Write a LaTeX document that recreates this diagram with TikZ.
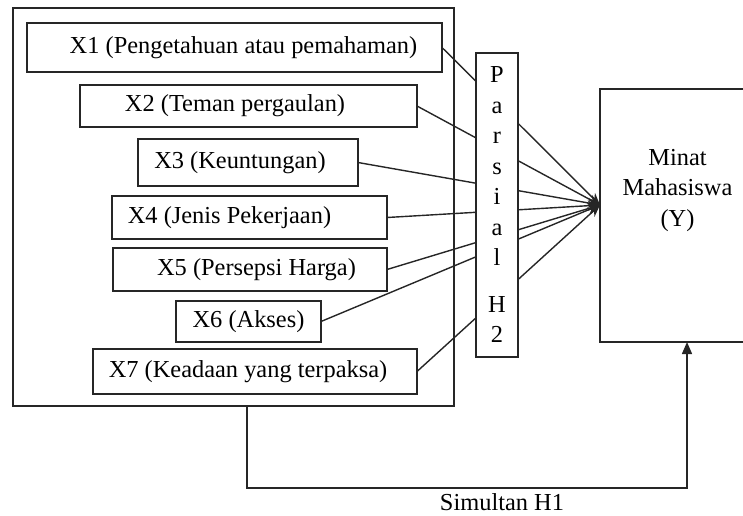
\documentclass[tikz,border=0pt]{standalone}
\usepackage{fontspec}
\setmainfont{Liberation Serif}
\usetikzlibrary{arrows.meta}
\begin{document}
\begin{tikzpicture}[x=0.5pt,y=-0.5pt,
  every node/.style={font=\fontsize{12.2}{15.25}\selectfont, inner sep=0pt, outer sep=0pt},
  boxx/.style={draw=black!85, line width=0.75pt, rectangle},
  link/.style={draw=black!85, line width=0.7pt, -{Stealth[length=6pt,width=5pt]}},
  simarrow/.style={draw=black!85, line width=0.75pt, -{Triangle[length=6pt,width=5pt]}}
]
\useasboundingbox (0,0) rectangle (743,515);
\clip (0,0) rectangle (743,515);

\node[boxx, minimum width=220.5pt, minimum height=199pt] (outer) at (233.5,207) {};

\node[boxx, minimum width=207.5pt, minimum height=24.5pt] (x1) at (234.5,47.5) {\hspace*{9pt}X1 (Pengetahuan atau pemahaman)};
\node[boxx, minimum width=168.5pt, minimum height=21pt] (x2) at (248.5,106) {X2 (Teman pergaulan)\hspace*{13.5pt}};
\node[boxx, minimum width=110pt, minimum height=23.5pt] (x3) at (248,162.5) {X3 (Keuntungan)\hspace*{8pt}};
\node[boxx, minimum width=137.5pt, minimum height=21.5pt] (x4) at (249.5,217.5) {X4 (Jenis Pekerjaan)\hspace*{20pt}};
\node[boxx, minimum width=137pt, minimum height=21.5pt] (x5) at (250,269.5) {\hspace*{6.5pt}X5 (Persepsi Harga)};
\node[boxx, minimum width=72.5pt, minimum height=20.5pt] (x6) at (248.5,321.5) {X6 (Akses)};
\node[boxx, minimum width=162pt, minimum height=22.5pt] (x7) at (255,371.5) {X7 (Keadaan yang terpaksa)\hspace*{7pt}};

\node[boxx, minimum width=77.5pt, minimum height=126.5pt, align=center] (y) at (677.5,215.5) {Minat\\Mahasiswa\\(Y)\\[12.5pt]~};

\coordinate (c) at ([yshift=5.25pt]y.west);

\foreach \n in {x1,x2,x3,x4,x5,x6,x7}
  \draw[link] (\n.east) -- (c);

\node[boxx, fill=white, minimum width=21pt, minimum height=152pt, align=center] (par) at (497,205) {P\\a\\r\\s\\i\\a\\l\\[8pt]H\\2};

\draw[simarrow] ([xshift=6.75pt]outer.south) -- ++(0,82) -| ([xshift=4.75pt]y.south);

\node (h1) at (502,502) {Simultan H1};
\end{tikzpicture}
\end{document}
